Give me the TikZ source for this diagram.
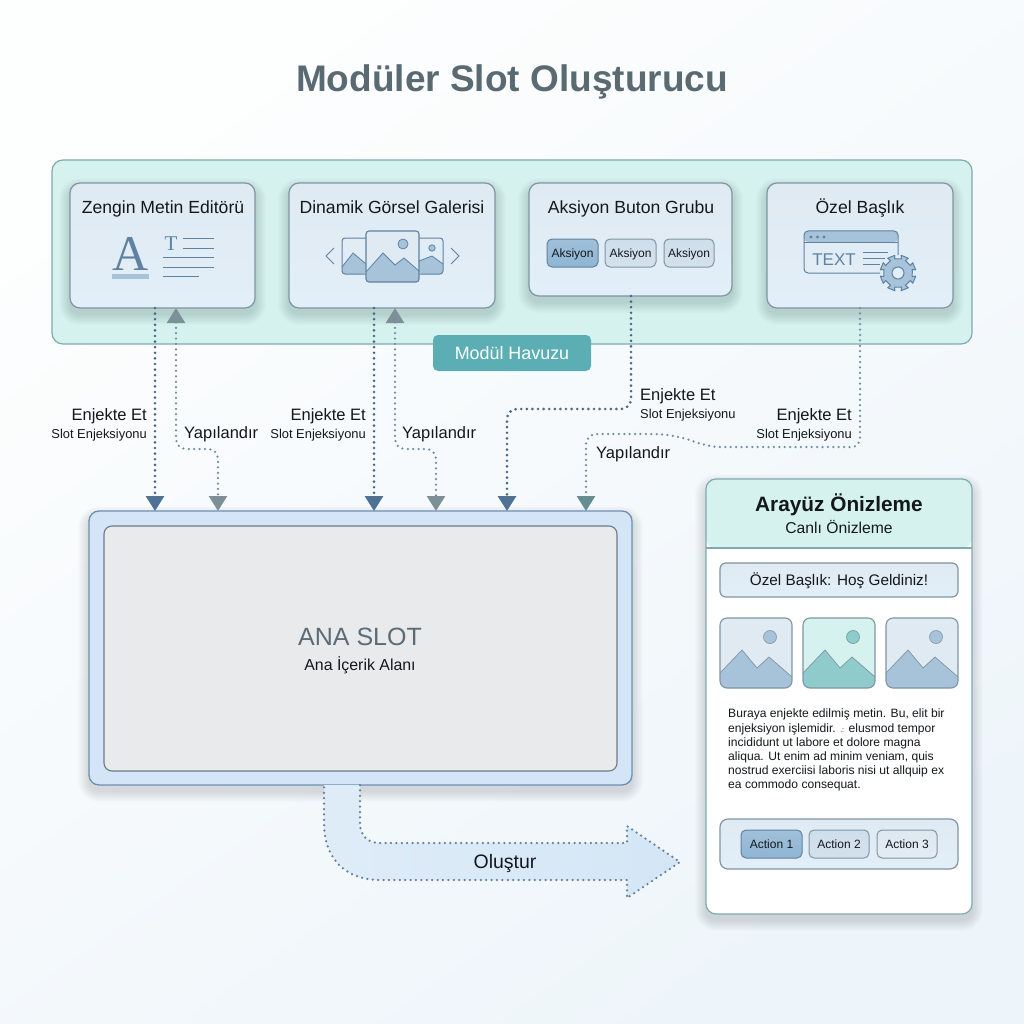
\documentclass[tikz,border=0pt]{standalone}
\usepackage{fontspec}
\setmainfont{Liberation Sans}
\newfontfamily\serifA{Liberation Serif}
\usetikzlibrary{arrows.meta,calc}
\definecolor{ink}{HTML}{14181C}
\definecolor{edgeC}{HTML}{7F95A3}
\definecolor{poolF}{HTML}{D5F2EE}
\definecolor{poolE}{HTML}{7FAAB2}
\definecolor{cardT}{HTML}{DFEAF3}
\definecolor{cardB}{HTML}{E3EFF8}
\definecolor{icon}{HTML}{5F82A0}
\definecolor{iconF}{HTML}{A7C3DA}
\definecolor{dkA}{HTML}{4E7194}
\definecolor{dotA}{HTML}{46698A}
\definecolor{grA}{HTML}{7E9097}
\definecolor{dotB}{HTML}{6F8FA2}
\definecolor{tealF}{HTML}{8FCBCB}
\definecolor{badge}{HTML}{5BAFB4}
\definecolor{bgT}{HTML}{FDFEFE}
\definecolor{bgB}{HTML}{EEF5FA}
\definecolor{titleC}{HTML}{5A6A72}
\definecolor{mainF}{HTML}{D3E5F6}
\definecolor{mainE}{HTML}{6C90B2}
\definecolor{innerF}{HTML}{E9EAEB}
\definecolor{innerE}{HTML}{6B7B88}
\definecolor{slotT}{HTML}{5C6B75}
\definecolor{btnDk}{HTML}{8FB5D3}
\definecolor{arrL}{HTML}{DFECF8}
\definecolor{arrR}{HTML}{D4E6F6}
\newcommand\fsz[1]{\fontsize{#1}{#1}\selectfont}
% box node from its corners: style, name, x0, y0, x1, y1
\newcommand\panel[6]{%
  \pgfmathsetmacro\pw{#5-#3}\pgfmathsetmacro\ph{#6-#4}%
  \pgfmathsetmacro\pcx{(#3+#5)/2}\pgfmathsetmacro\pcy{(#4+#6)/2}%
  \node[#1,minimum width=\pw pt,minimum height=\ph pt] (#2) at (\pcx,\pcy) {};}
% soft shadow: x0,y0,x1,y1,radius,drop
\newcommand\softshadow[6]{%
  \foreach \i in {1,...,11}{%
    \fill[black,opacity=.012,rounded corners=#5pt+\i pt]
      (#1-\i,#2-\i+#6) rectangle (#3+\i,#4+\i+#6);}}
\newcommand\pict[6]{% name,x,y,bg,mountain,sun
  \begin{scope}[shift={(#2,#3)}]
    \begin{scope}
      \clip[rounded corners=7pt] (0,0) rectangle (72,70);
      \fill[#4] (0,0) rectangle (72,70);
      \fill[#5] (0,55) -- (22,32) -- (37,50) -- (49,39) -- (72,59) -- (72,70) -- (0,70) -- cycle;
      \draw[edgeC,line width=.7pt] (0,55) -- (22,32) -- (37,50) -- (49,39) -- (72,59);
    \end{scope}
    \draw[#5!80!black,fill=#5,line width=.7pt] (50,19) circle (6.5);
    \node[draw=edgeC,line width=1.1pt,rounded corners=7pt,inner sep=0pt,minimum width=72pt,minimum height=70pt] (#1) at (36,35) {};
  \end{scope}}
\tikzset{
  cardbox/.style={draw=edgeC,line width=1.2pt,rounded corners=10pt,top color=cardT,bottom color=cardB,inner sep=0pt,outer sep=0pt},
  btnA/.style={draw=icon,line width=1pt,rounded corners=5pt,top color=btnDk!85,bottom color=btnDk,inner sep=0pt,outer sep=0pt},
  btnB/.style={draw=edgeC,line width=1pt,rounded corners=5pt,top color=iconF!55,bottom color=iconF!50,inner sep=0pt,outer sep=0pt},
  btnC/.style={draw=edgeC,line width=1pt,rounded corners=5pt,top color=iconF!38,bottom color=iconF!32,inner sep=0pt,outer sep=0pt},
  txt/.style={text=ink,inner sep=0pt,anchor=base},
  txtE/.style={text=ink,inner sep=0pt,anchor=base east},
  txtW/.style={text=ink,inner sep=0pt,anchor=base west},
  head/.style={txt,font=\fsz{17.6}},
  big/.style={font=\fsz{16.5}},
  small/.style={font=\fsz{12.9}},
  dots/.style={line width=2.9pt,line cap=round,dash pattern=on 0pt off 5.6pt},
  dotsB/.style={line width=2.5pt,line cap=round,dash pattern=on 0pt off 5.4pt},
  injTip/.style={-{Triangle[length=15pt,width=18pt,color=dkA]}},
  iconline/.style={draw=icon,line width=1pt},
}
\begin{document}
\begin{tikzpicture}[x=1pt,y=-1pt]
\useasboundingbox (0,0) rectangle (1024,1024);
\shade[top color=bgT,bottom color=bgB,shading angle=35] (0,0) rectangle (1024,1024);

\node[inner sep=0pt,anchor=base,text=titleC,font=\bfseries\fsz{37}] (title) at (512,92) {Modüler Slot Oluşturucu};

% Module pool
\panel{draw=poolE,line width=1.2pt,rounded corners=11pt,fill=poolF,inner sep=0pt,outer sep=0pt}{pool}{52}{160}{972}{344}
\softshadow{70}{183}{255}{308}{10}{6}
\softshadow{289}{183}{495}{308}{10}{6}
\softshadow{529}{183}{732}{296}{10}{6}
\softshadow{767}{183}{953}{308}{10}{6}
\panel{cardbox}{card1}{70}{183}{255}{308}
\panel{cardbox}{card2}{289}{183}{495}{308}
\panel{cardbox}{card3}{529}{183}{732}{296}
\panel{cardbox}{card4}{767}{183}{953}{308}
\node[head] (t1) at (163,214) {Zengin Metin Editörü};
\node[head] (t2) at (392,214) {Dinamik Görsel Galerisi};
\node[head] (t3) at (631,214) {Aksiyon Buton Grubu};
\node[head] (t4) at (860,214) {Özel Başlık};
\panel{fill=badge,rounded corners=5pt,inner sep=0pt,outer sep=0pt}{badgeN}{433}{335}{591}{371}
\node[txt,text=white,font=\fsz{17.9}] (badgeT) at (512,359) {Modül Havuzu};

% Card 1 icon
\node[inner sep=0pt,anchor=base,text=icon,font=\serifA\fsz{50}] (bigA) at (130.5,270) {A};
\fill[iconF] (112,274) rectangle (149,279);
\node[inner sep=0pt,anchor=base,text=icon,font=\serifA\fsz{21}] (smallT) at (171,250) {T};
\draw[iconline] (183,238) -- (214,238);
\draw[iconline] (183,248) -- (214,248);
\draw[iconline] (163,257) -- (214,257);
\draw[iconline] (163,267) -- (214,267);
\draw[iconline] (163,276) -- (199,276);

% Card 2 icon
\draw[icon,line width=1pt] (334,248) -- (326,256) -- (334,264);
\draw[icon,line width=1pt] (451,248) -- (459,256) -- (451,264);
\begin{scope}
  \clip[rounded corners=3pt] (342,238) rectangle (366,274);
  \fill[iconF] (342,267) -- (353,253) -- (366,264) -- (366,274) -- (342,274) -- cycle;
\end{scope}
\draw[icon,line width=1pt,rounded corners=3pt] (366,238) -- (342,238) -- (342,274) -- (366,274);
\draw[icon,line width=.8pt] (342,267) -- (353,253) -- (366,264);
\begin{scope}
  \clip[rounded corners=3pt] (419,238) rectangle (443,274);
  \fill[iconF] (419,261) -- (432,256) -- (443,264) -- (443,274) -- (419,274) -- cycle;
\end{scope}
\draw[icon,line width=1pt,rounded corners=3pt] (419,238) -- (443,238) -- (443,274) -- (419,274);
\draw[icon,line width=.8pt] (419,261) -- (432,256) -- (443,264);
\draw[icon,line width=.8pt,fill=iconF] (432,248) circle (3.2);
\begin{scope}
  \clip[rounded corners=3pt] (366,231) rectangle (419,282);
  \fill[cardT] (366,231) rectangle (419,282);
  \fill[iconF] (366,272) -- (383,253) -- (395,265) -- (404,258) -- (419,271) -- (419,282) -- (366,282) -- cycle;
  \draw[icon,line width=.8pt] (366,272) -- (383,253) -- (395,265) -- (404,258) -- (419,271);
\end{scope}
\draw[icon,line width=1.1pt,rounded corners=3pt] (366,231) rectangle (419,282);
\draw[icon,line width=.8pt,fill=iconF] (403,244) circle (5);

% Card 3 buttons
\panel{btnA}{ab1}{547}{239}{598}{267}
\panel{btnB}{ab2}{605}{239}{656}{267}
\panel{btnB}{ab3}{664}{239}{714}{267}
\node[txt,font=\fsz{12}] (abt1) at (572.5,257) {Aksiyon};
\node[txt,font=\fsz{12}] (abt2) at (630.5,257) {Aksiyon};
\node[txt,font=\fsz{12}] (abt3) at (689,257) {Aksiyon};

% Card 4 icon
\fill[iconF,rounded corners=4pt] (804,242) -- (804,231) -- (898,231) -- (898,242) -- cycle;
\draw[icon,line width=1pt,rounded corners=4pt] (898,255) -- (898,231) -- (804,231) -- (804,273) -- (880,273);
\draw[icon,line width=1pt] (804,242) -- (898,242);
\foreach \xx in {811,817.5,824}{\fill[icon] (\xx,237) circle (1.6);}
\node[inner sep=0pt,anchor=base,text=icon,font=\fsz{17}] (textI) at (834,265) {TEXT};
\draw[iconline,line width=.8pt] (863,252) -- (888,252);
\draw[iconline,line width=.8pt] (863,258) -- (885,258);
\draw[iconline,line width=.8pt] (863,264) -- (880,264);
\begin{scope}[shift={(898,273)}]
  \draw[icon,fill=iconF,line width=1pt,line join=round] (8:14.5pt)
    \foreach \a in {0,45,...,315}{ -- (\a+14:14.5pt) -- (\a+10:18pt) -- (\a+35:18pt) -- (\a+31:14.5pt) } -- cycle;
  \draw[icon,fill=cardB,line width=1pt] (0,0) circle (6);
\end{scope}

% Main slot
\softshadow{89}{511}{632}{785}{10}{6}
\panel{draw=mainE,line width=1.3pt,rounded corners=10pt,fill=mainF,inner sep=0pt,outer sep=0pt}{main}{89}{511}{632}{785}
\panel{draw=innerE,line width=1.1pt,rounded corners=8pt,fill=innerF,inner sep=0pt,outer sep=0pt}{inner}{104}{526}{617}{771}
\node[txt,text=slotT,font=\fsz{25}] (ana) at (360,645) {ANA SLOT};
\node[txt,font=\fsz{15.9}] (anaS) at (360,670) {Ana İçerik Alanı};

% Connector ports
\coordinate (p1) at (155,0);
\coordinate (p2) at (218,0);
\coordinate (p2b) at (176,0);
\coordinate (p3) at (374,0);
\coordinate (p4) at (436,0);
\coordinate (p4b) at (395,0);
\coordinate (p5) at (631,0);
\coordinate (p5b) at (507,0);
\coordinate (p6) at (860,0);
\coordinate (p6b) at (586,0);

% Inject / configure connectors
\draw[dots,dotA,injTip] (card1.south -| p1) -- (main.north -| p1);
\draw[dots,dotA,injTip] (card2.south -| p3) -- (main.north -| p3);
\draw[dotsB,dotB,rounded corners=10pt,{Triangle[length=15pt,width=18pt,color=grA]}-{Triangle[length=15pt,width=18pt,color=grA]}]
  (card1.south -| p2b) -- (176,449) -- (218,449) -- (main.north -| p2);
\draw[dotsB,dotB,rounded corners=10pt,{Triangle[length=15pt,width=18pt,color=grA]}-{Triangle[length=15pt,width=18pt,color=grA]}]
  (card2.south -| p4b) -- (395,449) -- (436,449) -- (main.north -| p4);
\draw[dots,dotA,injTip,rounded corners=10pt] (card3.south -| p5) -- (631,409) -- (507,409) -- (main.north -| p5b);
\draw[dotsB,dotB,-{Triangle[length=15pt,width=18pt,color=grA!80!teal]}]
  (card4.south -| p6) -- (860,437) .. controls (860,444) and (857,447) .. (850,447) -- (723,447)
  .. controls (695,447) and (690,434) .. (650,434) -- (598,434)
  .. controls (590,434) and (586,438) .. (586,446) -- (main.north -| p6b);

% Connector labels
\node[txtE,big] (e1) at (147,420) {Enjekte Et};
\node[txtE,small] (s1) at (147,438.5) {Slot Enjeksiyonu};
\node[txtW,big] (y1) at (184,438) {Yapılandır};
\node[txtE,big] (e2) at (366,420) {Enjekte Et};
\node[txtE,small] (s2) at (366,438.5) {Slot Enjeksiyonu};
\node[txtW,big] (y2) at (402,438) {Yapılandır};
\node[txtW,big] (e3) at (640,400) {Enjekte Et};
\node[txtW,small] (s3) at (640,418.5) {Slot Enjeksiyonu};
\node[txtE,big] (e4) at (852,420) {Enjekte Et};
\node[txtE,small] (s4) at (852,438.5) {Slot Enjeksiyonu};
\node[txtW,big] (y3) at (596,458) {Yapılandır};

% Build arrow
\coordinate (fa) at (main.south -| 324,0);
\coordinate (fb) at (main.south -| 360,0);
\draw[dotsB,dotA!85,left color=arrL,right color=arrR,line join=round]
  (fb) -- (360,823) .. controls (360,836) and (368,843) .. (380,843) -- (627,843) -- (627,826) -- (680,862)
  -- (627,898) -- (627,880) -- (380,880) .. controls (345,880) and (324,858) .. (324,823) -- (fa);
\node[txt,font=\fsz{19.5}] (build) at (505,868.5) {Oluştur};

% Preview
\softshadow{706}{479}{972}{914}{10}{6}
\panel{fill=white,rounded corners=10pt,inner sep=0pt,outer sep=0pt}{prev}{706}{479}{972}{914}
\fill[poolF,rounded corners=10pt] (706,548) -- (706,479) -- (972,479) -- (972,548) -- cycle;
\draw[poolE,line width=1.2pt] (706,548) -- (972,548);
\draw[poolE,line width=1.2pt,rounded corners=10pt] (706,479) rectangle (972,914);
\node[txt,font=\bfseries\fsz{20.8}] (pt1) at (839,511) {Arayüz Önizleme};
\node[txt,font=\fsz{15.7}] (pt2) at (839,533.5) {Canlı Önizleme};
\panel{cardbox,rounded corners=6pt}{hdr}{720}{563}{958}{597}
\node[txt,font=\fsz{15.3}] (hdrT) at (839,585) {Özel Başlık: Hoş Geldiniz!};
\pict{im1}{720}{618}{cardT}{iconF}{iconF}
\pict{im2}{803}{618}{poolF}{tealF}{tealF}
\pict{im3}{886}{618}{cardT}{iconF}{iconF}
\node[anchor=north west,inner sep=0pt,align=left,text=ink,font=\fontsize{12.1}{14.2}\selectfont] (para) at (728,709)
 {Buraya enjekte edilmiş metin. Bu, elit bir\\enjeksiyon işlemidir. {\fsz{7}.:} elusmod tempor\\incididunt ut labore et dolore magna\\aliqua. Ut enim ad minim veniam, quis\\nostrud exerciisi laboris nisi ut allquip ex\\ea commodo consequat.};
\panel{cardbox,rounded corners=8pt}{grp}{720}{819}{958}{869}
\panel{btnA}{b1}{741}{830}{802}{858}
\panel{btnB}{b2}{809}{830}{869}{858}
\panel{btnC}{b3}{877}{830}{937}{858}
\node[txt,font=\fsz{12}] (bt1) at (771.5,848) {Action 1};
\node[txt,font=\fsz{12}] (bt2) at (839,848) {Action 2};
\node[txt,font=\fsz{12}] (bt3) at (907,848) {Action 3};
\end{tikzpicture}
\end{document}
